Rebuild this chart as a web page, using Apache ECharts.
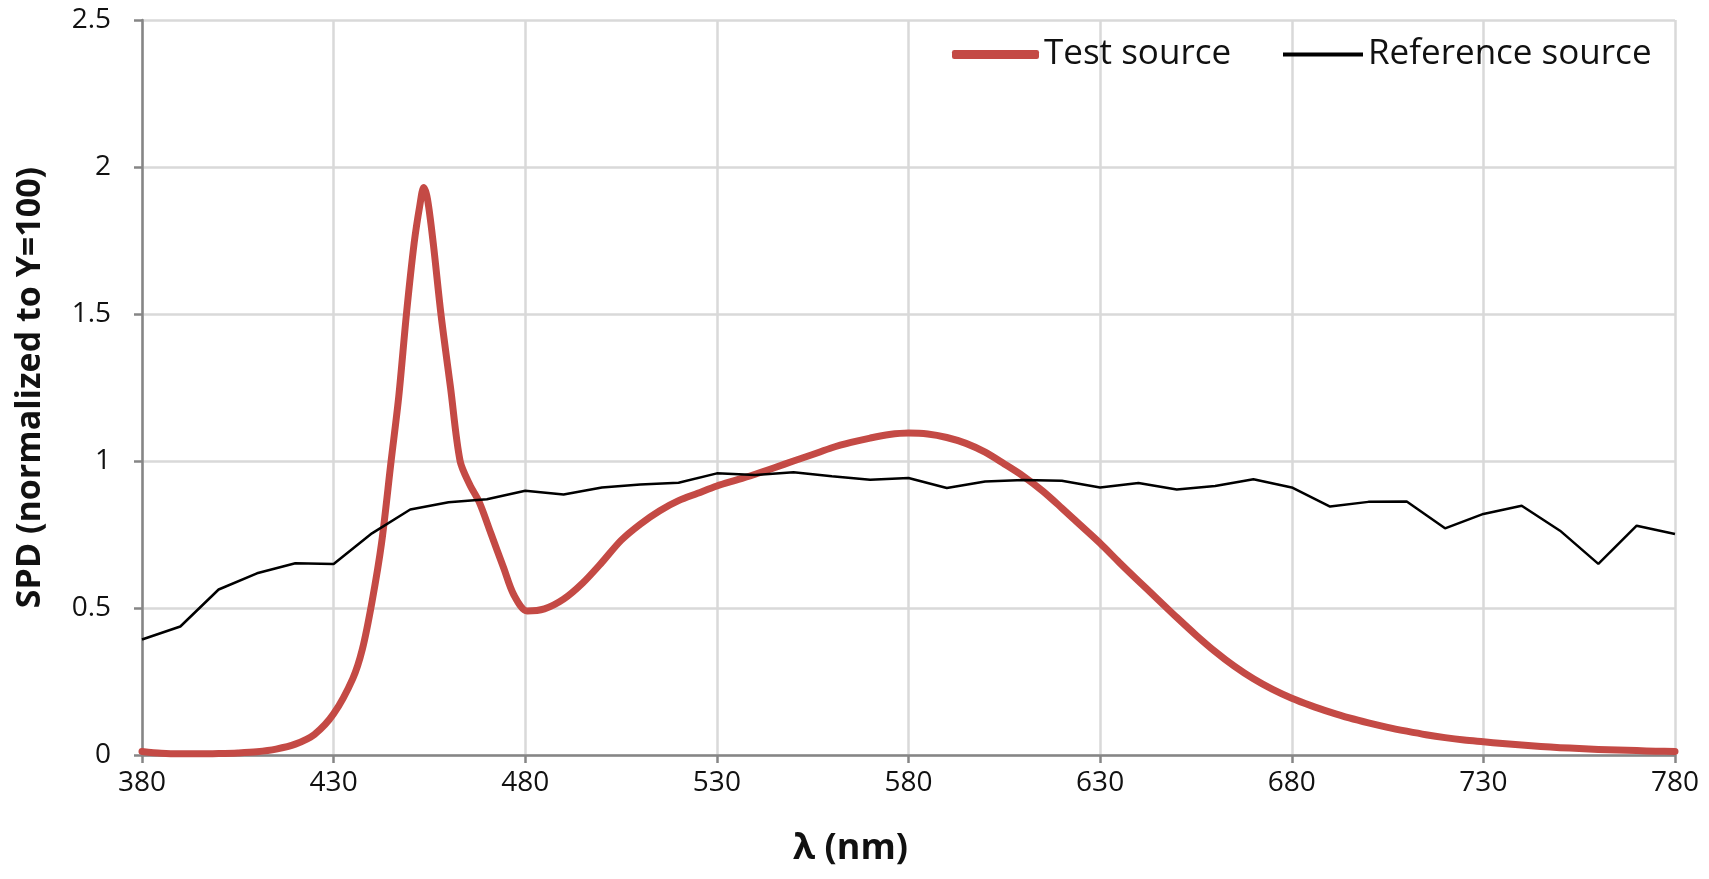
<!DOCTYPE html>
<html>
<head>
<meta charset="utf-8">
<script src="https://cdn.jsdelivr.net/npm/echarts@6/dist/echarts.min.js"></script>
<style>html,body{margin:0;padding:0;background:#fff;}#c{width:1709px;height:879px;}</style>
</head>
<body>
<div id="c"></div>
<script>
// Test source SPD (wavelength nm, value)
const testWavelengths = [380,385,390,395,400,405,410,415,420,425,430,435,437.5,440,442.5,445,447,449,451,452.5,453.5,454.5,456,458,460.5,463,465.5,468,471,474.4,477,480.5,485,490,495,500,505,510,515,520,525,530,535,540,545,550,555,560,565,570,575,580,585,590,595,600,605,610,615,620,625,630,635,640,645,650,655,660,665,670,675,680,685,690,695,700,705,710,715,720,725,730,735,740,745,750,755,760,765,770,775,780];
const testValues = [0.012,0.006,0.004,0.004,0.005,0.007,0.011,0.02,0.037,0.07,0.14,0.26,0.36,0.52,0.72,1.0,1.22,1.5,1.74,1.87,1.93,1.89,1.74,1.5,1.25,1.0,0.92,0.86,0.755,0.635,0.545,0.49,0.497,0.53,0.585,0.655,0.73,0.785,0.83,0.865,0.89,0.915,0.935,0.955,0.977,1.0,1.022,1.045,1.063,1.078,1.09,1.095,1.092,1.08,1.06,1.03,0.99,0.948,0.898,0.84,0.78,0.72,0.655,0.592,0.53,0.468,0.408,0.352,0.302,0.259,0.223,0.193,0.168,0.146,0.126,0.109,0.094,0.081,0.069,0.059,0.051,0.045,0.039,0.034,0.029,0.025,0.022,0.019,0.017,0.015,0.013,0.012];
// Reference source SPD at 10 nm steps
const refWavelengths = [380,390,400,410,420,430,440,450,460,470,480,490,500,510,520,530,540,550,560,570,580,590,600,610,620,630,640,650,660,670,680,690,700,710,720,730,740,750,760,770,780];
const refValues = [0.393,0.437,0.563,0.618,0.652,0.650,0.754,0.835,0.860,0.870,0.899,0.886,0.910,0.920,0.926,0.958,0.952,0.962,0.948,0.936,0.942,0.908,0.930,0.935,0.933,0.910,0.925,0.903,0.915,0.938,0.910,0.845,0.861,0.862,0.771,0.820,0.848,0.763,0.650,0.780,0.752];
const seriesNames = ['Test source','Reference source'];
const xTitle = 'λ (nm)';
const yTitle = 'SPD (normalized to Y=100)';

const FONT = 'Open Sans';
const RED = '#C44A45';
const chart = echarts.init(document.getElementById('c'), null, {renderer:'canvas'});
chart.setOption({
  animation:false,
  backgroundColor:'#fff',
  textStyle:{fontFamily:FONT},
  grid:{left:142,right:34,top:20,bottom:124,containLabel:false},
  legend:[
    {data:[seriesNames[0]],left:947,top:32,itemWidth:87,itemHeight:9,icon:'roundRect',
     textStyle:{fontFamily:FONT,fontSize:35,color:'#111'}},
    {data:[seriesNames[1]],left:1278,top:32,itemWidth:80,itemHeight:4,icon:'rect',
     textStyle:{fontFamily:FONT,fontSize:35,color:'#111'}}
  ],
  xAxis:{
    type:'value',min:380,max:780,interval:50,
    name:xTitle,nameLocation:'middle',nameGap:76,
    nameTextStyle:{fontFamily:FONT,fontSize:36,fontWeight:'bold',color:'#111',padding:[0,116,0,0]},
    axisLine:{lineStyle:{color:'#868686',width:2.5}},
    axisTick:{show:true,length:8,lineStyle:{color:'#868686',width:2.5}},
    axisLabel:{fontFamily:FONT,fontSize:28,color:'#111',margin:14},
    splitLine:{show:true,lineStyle:{color:'#d9d9d9',width:2.5}}
  },
  yAxis:{
    type:'value',min:0,max:2.5,interval:0.5,
    name:yTitle,nameLocation:'middle',nameGap:95,nameRotate:90,
    nameTextStyle:{fontFamily:FONT,fontSize:34,fontWeight:'bold',color:'#111'},
    axisLine:{show:true,lineStyle:{color:'#868686',width:2.5}},
    axisTick:{show:true,length:8,lineStyle:{color:'#868686',width:2.5}},
    axisLabel:{fontFamily:FONT,fontSize:28,color:'#111',margin:31},
    splitLine:{show:true,lineStyle:{color:'#d9d9d9',width:2.5}}
  },
  series:[
    {name:seriesNames[0],type:'line',smooth:0.3,symbol:'none',z:2,
     lineStyle:{color:RED,width:7,cap:'round',join:'round'},itemStyle:{color:RED},
     data:testWavelengths.map((w,i)=>[w,testValues[i]])},
    {name:seriesNames[1],type:'line',smooth:false,symbol:'none',z:3,
     lineStyle:{color:'#000',width:2.5},itemStyle:{color:'#000'},
     data:refWavelengths.map((w,i)=>[w,refValues[i]])}
  ]
});
</script>
</body>
</html>
